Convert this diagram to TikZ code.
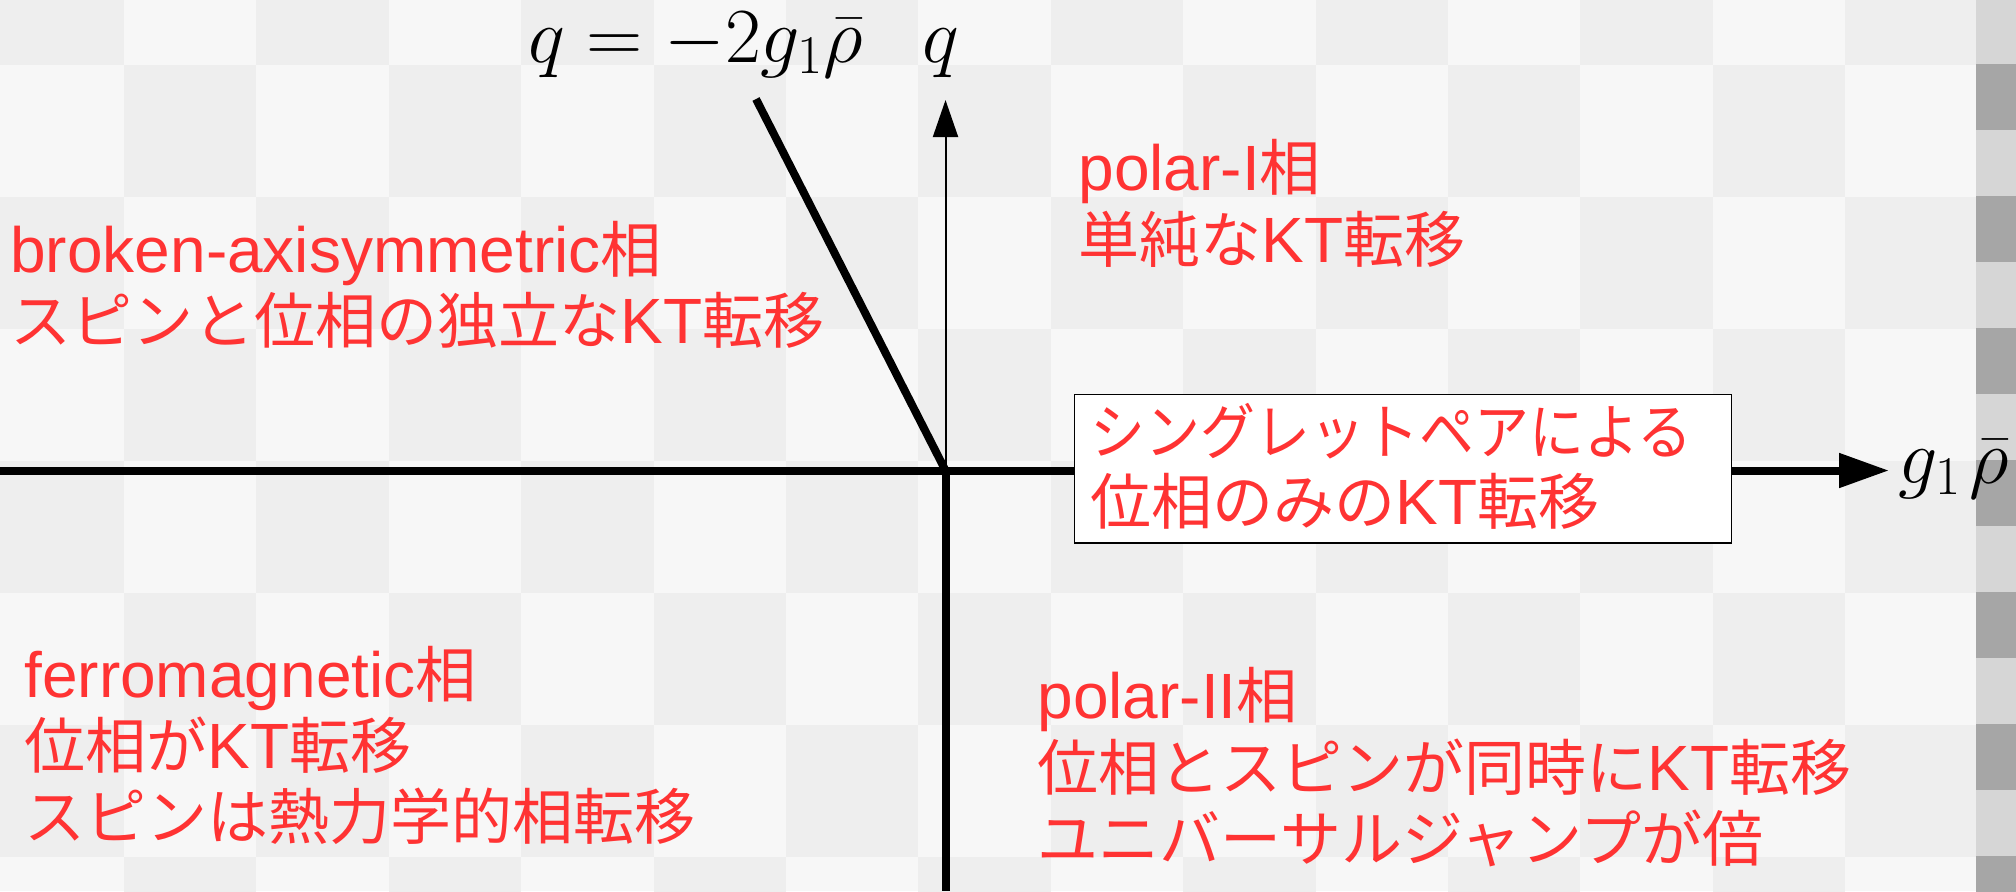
\RequirePackage{fix-cm}
\documentclass[tikz,border=0pt]{standalone}
\usepackage{fontspec}
\setmainfont{Noto Sans CJK JP}
\newfontfamily\lafont{Liberation Sans}
\usepackage{graphicx}
\usetikzlibrary{arrows.meta}
\definecolor{txtred}{RGB}{255,51,51}
\definecolor{chkA}{HTML}{F7F7F7}
\definecolor{chkB}{HTML}{EEEEEE}
\definecolor{stA}{HTML}{D6D6D6}
\definecolor{stB}{HTML}{A6A6A6}
\newcommand\LT[1]{{\lafont\fontsize{32}{36}\selectfont #1}}
\begin{document}
\begin{tikzpicture}[x=0.5pt,y=-0.5pt,
  redtxt/.style={text=txtred, font=\fontsize{30.5}{36}\selectfont, anchor=base west, inner sep=0pt},
  mathlab/.style={font=\fontsize{39}{40}\selectfont, inner sep=0pt},
  thickline/.style={line width=4pt},
  thinline/.style={line width=1pt}]
\useasboundingbox (0,0) rectangle (2016,891);
% checkerboard background
\fill[chkA] (0,0) rectangle (2016,891);
\begin{scope}
\clip (0,0) rectangle (1976,891);
\foreach \i in {0,...,14}{\foreach \j in {0,...,7}{
  \pgfmathtruncatemacro\cpar{mod(\i+\j,2)}
  \ifnum\cpar=0 \fill[chkB] ({-8.4+132.4*\i},{-67+132*\j}) rectangle ++(132.4,132); \fi
}}
\end{scope}
\begin{scope}
\clip (1976,0) rectangle (2016,891);
\foreach \k in {0,...,13}{
  \pgfmathtruncatemacro\cs{mod(\k,2)}
  \ifnum\cs=0 \fill[stA] (1976,{-2+66*\k}) rectangle (2016,{64+66*\k});
  \else \fill[stB] (1976,{-2+66*\k}) rectangle (2016,{64+66*\k}); \fi
}
\end{scope}
% axes
\coordinate (O) at (945.5,470.5);
\coordinate (xstart) at (0,470.5);
\coordinate (xtip) at (1889,470.5);
\coordinate (ytip) at (945.5,100);
\coordinate (ybot) at (945.5,891);
\coordinate (dtop) at (756,99);
\draw[thickline] (dtop) -- (O);
\draw[thickline] (O) -- (ybot);
\draw[thinline, -{Triangle[length=18.5pt,width=12.5pt]}] (O) -- (ytip);
\draw[thickline, -{Triangle[length=25pt,width=16.5pt]}] (xstart) -- (xtip);
% math labels
\node[mathlab, anchor=base west] (xlab) at (1898,483) {$g_1\mkern2mu\bar\rho$};
\node[mathlab, anchor=base] (qlab) at (941,62) {$q$};
\node[mathlab, anchor=base west] (qeq) at (528,62) {$q=-2g_1\bar\rho$};
% box
\node[draw=black, fill=white, line width=0.6pt, minimum width=328.5pt, minimum height=74.25pt, inner sep=0pt] (box) at (1403,468.75) {};
\node[redtxt] (bx1) at (1090,454) {\scalebox{0.9}[1]{シングレットペアによる}};
\node[redtxt] (bx2) at (1090,524) {位相のみの\LT{KT}転移};
% region texts
\node[redtxt] (ba1) at (10,272) {\LT{broken-axisymmetric}相};
\node[redtxt] (ba2) at (10,343) {スピンと位相の独立な\LT{KT}転移};
\node[redtxt] (p1a) at (1078,190) {\LT{polar-I}相};
\node[redtxt] (p1b) at (1078,262) {単純な\LT{KT}転移};
\node[redtxt] (fm1) at (24,697) {\LT{ferromagnetic}相};
\node[redtxt] (fm2) at (24,768) {位相が\LT{KT}転移};
\node[redtxt] (fm3) at (24,839) {スピンは熱力学的相転移};
\node[redtxt] (p2a) at (1037,718) {\LT{polar-II}相};
\node[redtxt] (p2b) at (1037,790) {位相とスピンが同時に\LT{KT}転移};
\node[redtxt] (p2c) at (1037,861) {ユニバーサルジャンプが倍};
\end{tikzpicture}
\end{document}
